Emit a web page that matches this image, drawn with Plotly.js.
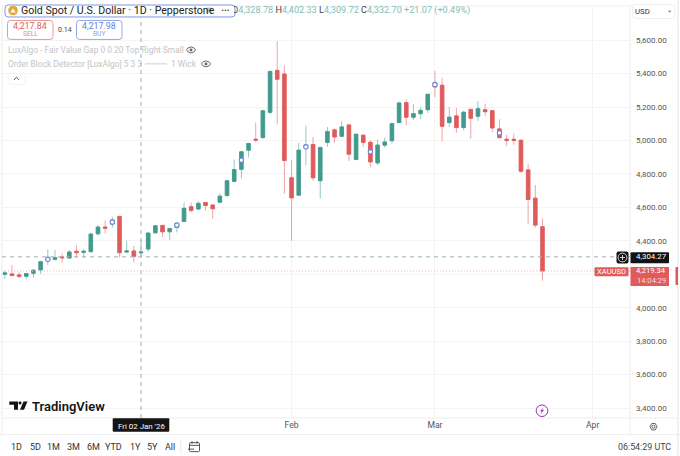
<!DOCTYPE html>
<html><head><meta charset="utf-8">
<script src="https://cdn.plot.ly/plotly-3.0.1.min.js"></script>
<style>html,body{margin:0;padding:0;background:#fff}#c{width:680px;height:456px}</style>
</head><body><div id="c"></div>
<script>
const dates=['2025-12-08','2025-12-09','2025-12-10','2025-12-11','2025-12-12','2025-12-15','2025-12-16','2025-12-17','2025-12-18','2025-12-19','2025-12-22','2025-12-23','2025-12-24','2025-12-25','2025-12-26','2025-12-29','2025-12-30','2025-12-31','2026-01-01','2026-01-02','2026-01-05','2026-01-06','2026-01-07','2026-01-08','2026-01-09','2026-01-12','2026-01-13','2026-01-14','2026-01-15','2026-01-16','2026-01-19','2026-01-20','2026-01-21','2026-01-22','2026-01-23','2026-01-26','2026-01-27','2026-01-28','2026-01-29','2026-01-30','2026-02-02','2026-02-03','2026-02-04','2026-02-05','2026-02-06','2026-02-09','2026-02-10','2026-02-11','2026-02-12','2026-02-13','2026-02-16','2026-02-17','2026-02-18','2026-02-19','2026-02-20','2026-02-23','2026-02-24','2026-02-25','2026-02-26','2026-02-27','2026-03-02','2026-03-03','2026-03-04','2026-03-05','2026-03-06','2026-03-09','2026-03-10','2026-03-11','2026-03-12','2026-03-13','2026-03-16','2026-03-17','2026-03-18','2026-03-19','2026-03-20','2026-03-23'];
const opens=[4200,4202,4196,4188,4206,4226,4285,4289,4303,4297,4337,4331,4335,4442,4482,4500,4546,4333,4339,4328.78,4351,4448,4492,4454,4480,4516,4604,4590,4629,4614,4631,4671,4755,4828,4942,5007,5017,5168,5419,5397,4777,4673,4958,4976,4759,4988,5063,5025,5093,4886,5031,4989,4866,4972,4999,5107,5226,5139,5160,5184,5344,5330,5107,5147,5077,5186,5145,5184,5178,5069,5007,5007,5001,4824,4655,4484];
const highs=[4222,4255,4212,4206,4232,4281,4349,4345,4325,4345,4373,4349,4448,4494,4522,4544,4548,4401,4369,4402.33,4452,4492,4492,4476,4510,4627,4629,4637,4629,4616,4683,4763,4886,4938,4986,5107,5184,5413,5594,5449,4882,4988,5089,5021,4962,5081,5071,5115,5093,5041,5037,5001,5005,5017,5101,5232,5246,5216,5200,5276,5415,5375,5200,5194,5175,5186,5236,5220,5184,5127,5035,5041,5007,4862,4733,4534];
const lows=[4172,4190,4176,4170,4180,4202,4255,4281,4269,4295,4297,4297,4331,4432,4444,4478,4301,4325,4271,4309.72,4335,4444,4421,4405,4450,4512,4570,4586,4580,4532,4627,4659,4753,4773,4898,4991,5011,5157,5097,4681,4401,4669,4852,4759,4653,4962,4986,5021,4878,4886,4962,4838,4852,4958,4982,5105,5091,5121,5127,5165,5260,4995,5081,5047,5061,5011,5117,5147,5051,5011,4968,4974,4808,4500,4480,4162];
const closes=[4208,4192,4188,4204,4224,4275,4295,4299,4299,4333,4329,4337,4440,4482,4476,4524,4329,4339,4307,4332.70,4446,4490,4454,4474,4504,4594,4582,4624,4611,4592,4667,4759,4826,4932,4982,5003,5177,5413,5366,4880,4657,4942,4972,4777,4958,5053,5021,5081,4918,5037,4989,4872,4972,4991,5101,5224,5139,5160,5180,5276,5320,5085,5139,5077,5169,5133,5190,5172,5075,5017,5001,5001,4816,4647,4494,4219.34];
const markerDates=['2025-12-16','2025-12-29','2026-01-09','2026-01-22','2026-02-04','2026-02-17','2026-03-02','2026-03-13'];
const markerPrices=[4289,4512,4494,4882,4962,4932,5334,5045];
const priceTicks=[3400,3600,3800,4000,4200,4400,4600,4800,5000,5200,5400,5600];
// the 4,200.00 label is hidden behind the last-price tag in the reference
const priceLabels=['3,400.00','3,600.00','3,800.00','4,000.00','','4,400.00','4,600.00','4,800.00','5,000.00','5,200.00','5,400.00','5,600.00'];
const monthTicks=['2026-02-02','2026-03-02','2026-04-01'];
const monthLabels=['Feb','Mar','Apr'];
const crossPrice=4304.27, lastPrice=4219.34, crossDate='2026-01-02';
const rangeButtons=['1D','5D','1M','3M','6M','YTD','1Y','5Y','All'];

const L=2,R=630,T=6.5,B=418.3,W=R-L,H=B-T;
const UP='#429a8e',DN='#e15b5b',UPW='rgba(66,154,142,0.55)',DNW='rgba(225,91,91,0.55)';
const F='Roboto, "Noto Sans", sans-serif';
const fx=p=>(p-L)/W, fy=p=>1-(p-T)/H;
const shapes=[],ann=[];
function line(x0,y0,x1,y1,c,w,dash,layer){shapes.push({type:'line',xref:'paper',yref:'paper',x0:fx(x0),x1:fx(x1),y0:fy(y0),y1:fy(y1),line:{color:c,width:w||1,dash:dash||'solid'},layer:layer||'above'});}
function rect(x0,y0,x1,y1,fill,c,w){shapes.push({type:'rect',xref:'paper',yref:'paper',x0:fx(x0),x1:fx(x1),y0:fy(y0),y1:fy(y1),fillcolor:fill||'rgba(0,0,0,0)',line:{color:c||'rgba(0,0,0,0)',width:c?(w||1):0},layer:'above'});}
function circ(cx,cy,r,fill,c,w){shapes.push({type:'circle',xref:'paper',yref:'paper',x0:fx(cx-r),x1:fx(cx+r),y0:fy(cy-r),y1:fy(cy+r),fillcolor:fill||'rgba(0,0,0,0)',line:{color:c||'rgba(0,0,0,0)',width:c?(w||1):0},layer:'above'});}
function poly(pts,fill,c,w,open){const d=pts.map((p,i)=>(i?'L':'M')+fx(p[0])+','+fy(p[1])).join(' ')+(open?'':' Z');shapes.push({type:'path',xref:'paper',yref:'paper',path:d,fillcolor:fill||'rgba(0,0,0,0)',line:{color:c||'rgba(0,0,0,0)',width:c?(w||1):0},layer:'above'});}
function rr(x0,y0,x1,y1,r,fill,c,w){const P=(x,y)=>fx(x)+','+fy(y);const d=`M${P(x0+r,y0)} L${P(x1-r,y0)} Q${P(x1,y0)} ${P(x1,y0+r)} L${P(x1,y1-r)} Q${P(x1,y1)} ${P(x1-r,y1)} L${P(x0+r,y1)} Q${P(x0,y1)} ${P(x0,y1-r)} L${P(x0,y0+r)} Q${P(x0,y0)} ${P(x0+r,y0)} Z`;shapes.push({type:'path',xref:'paper',yref:'paper',path:d,fillcolor:fill||'rgba(0,0,0,0)',line:{color:c||'rgba(0,0,0,0)',width:c?(w||1):0},layer:'above'});}
function txt(t,x,y,size,color,anchor,extra){ann.push(Object.assign({text:t,xref:'paper',yref:'paper',x:fx(x),y:fy(y),xanchor:anchor||'left',yanchor:'middle',showarrow:false,font:{family:F,size:size,color:color},borderpad:0,borderwidth:0},extra||{}));}
function eye(cx,cy){poly([[cx-4.5,cy],[cx-3,cy-2],[cx,cy-3],[cx+3,cy-2],[cx+4.5,cy],[cx+3,cy+2],[cx,cy+3],[cx-3,cy+2]],null,'#6a6a6a',1);circ(cx,cy,1.5,'#6a6a6a');}

// frame
line(2,5.5,676,5.5,'#f0f0f0',1);
line(2,5,2,435,'#ececec',1);
line(678,0,678,456,'#ececec',1.5);
line(L,B,678,B,'#ececec',1);
line(R,5.5,R,435,'#ececec',1);
line(0,435,680,435,'#ececec',1);

// crosshair and price lines in data coordinates
shapes.push({type:'line',xref:'paper',yref:'y',x0:0,x1:1,y0:crossPrice,y1:crossPrice,line:{color:'#adadad',width:1,dash:'4px,4px'},layer:'above'});
shapes.push({type:'line',xref:'paper',yref:'y',x0:0,x1:1,y0:lastPrice,y1:lastPrice,line:{color:'#f3b9b9',width:1,dash:'1px,2px'},layer:'above'});
shapes.push({type:'line',xref:'x',yref:'paper',x0:crossDate,x1:crossDate,y0:0,y1:1,line:{color:'#b5b5b5',width:1.2,dash:'4px,4px'},layer:'above'});

// OHLC header (drawn first so the title pill sits on its first letter)
const g='#7fc0b5',k='#444';
txt(`<span style="color:#555">O</span>4,328.78 <span style="color:${k}">H</span>4,402.33 <span style="color:${k}">L</span>4,309.72 <span style="color:${k}">C</span>4,332.70 +21.07 (+0.49%)`,232,10.3,9.1,g);

// title pill
rr(5,4.5,235,16.5,3,'#ffffff','#8097e2',1);
circ(13,10,4.8,'#e3a63c');
poly([[10.2,12],[13,8],[15.8,12]],'#ffffff');
txt('Gold Spot / U.S. Dollar · 1D · Pepperstone',21,10.3,10.6,'#222');
poly([[206,7],[212,7],[212,13],[209,11],[206,13]],'#c9c9c9');
txt('•••',225.5,10,8,'#444','center',{bgcolor:'#ffffff',width:17,height:9});

// sell / buy
rr(7.5,20,53,39,3,'#ffffff','#e99a9a',1);
txt('4,217.84',30.5,26,8.8,'#de5b5b','center');
txt('SELL',30.5,34,6.6,'#e58a8a','center');
txt('0.14',65,29.7,7,'#444','center');
rr(76.5,20,122,39,3,'#ffffff','#94a8e8',1);
txt('4,217.98',99,26,8.8,'#5f7fdc','center');
txt('BUY',99,34,6.6,'#8fa5e6','center');

// indicator legend
txt('LuxAlgo - Fair Value Gap 0 0 20 Top Right Small',8,49.5,8.4,'#c4c4c4');
eye(191,49.5);
txt('Order Block Detector [LuxAlgo] 5 3 3',8,63.5,8.4,'#c4c4c4');
line(145,63.5,167,63.5,'#cfcfcf',1);
txt('1 Wick',170.5,63.5,8.4,'#c4c4c4');
eye(206,63.5);
rr(8,73,25,84,1.5,'#ffffff','#f2f2f2',1);
poly([[14,79.5],[16.5,77],[19,79.5]],null,'#555',1,true);

// currency button
rr(632.5,4,674.5,18,2,'#ffffff','#f0f0f0',1);
txt('USD',634.5,11,7.8,'#333');
poly([[668,10.3],[671.5,10.3],[669.75,12]],'#777');

// crosshair price tag and add button
rr(630.5,252.3,669,263.3,1,'#131313');
ann.push({text:'4,304.27',xref:'paper',yref:'y',x:fx(651),y:crossPrice,xanchor:'center',yanchor:'middle',showarrow:false,font:{family:F,size:7.9,color:'#ffffff'},borderpad:0,borderwidth:0});
rr(616.5,251.5,628.5,263.5,2,'#131313');
circ(622.5,257.5,4.4,null,'#ffffff',0.8);
line(620,257.5,625,257.5,'#ffffff',0.8);
line(622.5,255,622.5,260,'#ffffff',0.8);

// last price tag
rr(594.5,267.3,628.5,276.3,1,DN);
txt('XAUUSD',611.5,271.9,7.6,'#ffffff','center');
rect(630.5,267,669,286,DN);
ann.push({text:'4,219.34',xref:'paper',yref:'y',x:fx(651),y:lastPrice,yshift:0.5,xanchor:'center',yanchor:'middle',showarrow:false,font:{family:F,size:7.6,color:'#ffffff'},borderpad:0,borderwidth:0});
txt('14:04:29',651,280.8,7.6,'#fbdcdc','center');
rect(675.5,267,678,285,DN);

// date tag
rr(112.7,418.5,169.3,432,1,'#131313');
txt("Fri 02 Jan '26",141,426.5,7.9,'#ffffff','center');

// logo
poly([[9.3,401.7],[18,401.7],[18,410],[14,410],[14,405],[9.3,405]],'#131318');
circ(20,403.2,1.5,'#131318');
poly([[20,410],[23.5,401.7],[27.5,401.7],[24,410]],'#131318');
txt('TradingView',31.7,406.3,13,'#131318','left',{font:{family:F,size:13,color:'#131318',weight:600}});

// lightning badge
circ(542,411,5.8,'#ffffff','#9b2fae',1);
poly([[543.5,407.8],[540,411.6],[541.7,411.6],[540.5,414.2],[544,410.4],[542.3,410.4]],'#9b2fae');

// settings hex
poly([[650,427],[651.8,423.8],[655.2,423.8],[657,427],[655.2,430.2],[651.8,430.2]],null,'#555',0.9);
circ(653.5,427,1.5,null,'#555',0.9);

// toolbar
const btnX=[16.7,35,53,73,93,114,135,152,169.5];
rangeButtons.forEach((b,i)=>txt(b,btnX[i],447,9,'#333','center'));
line(180.7,440,180.7,454,'#eaeaea',1);
rr(189.5,443,199.5,452,1,null,'#444',0.9);
line(189.5,445.7,199.5,445.7,'#444',0.9);
line(192,441.5,192,444,'#444',0.9);
line(197,441.5,197,444,'#444',0.9);
line(188,449.5,194,449.5,'#444',0.9);
txt('06:54:29 UTC',671,447,8.9,'#444','right');

const bodyHigh=opens.map((o,i)=>Math.max(o,closes[i]));
const bodyLow=opens.map((o,i)=>Math.min(o,closes[i]));
const traces=[
 {type:'candlestick',x:dates,open:opens,high:highs,low:lows,close:closes,increasing:{line:{color:UPW,width:1},fillcolor:'rgba(0,0,0,0)'},decreasing:{line:{color:DNW,width:1},fillcolor:'rgba(0,0,0,0)'},whiskerwidth:0,hoverinfo:'skip',showlegend:false},
 {type:'candlestick',x:dates,open:opens,high:bodyHigh,low:bodyLow,close:closes,increasing:{line:{color:UP,width:0.8},fillcolor:UP},decreasing:{line:{color:DN,width:0.8},fillcolor:DN},whiskerwidth:0,hoverinfo:'skip',showlegend:false},
 {type:'scatter',mode:'markers',x:markerDates,y:markerPrices,marker:{symbol:'circle',size:4.4,color:'#ffffff',line:{color:'#6f86d8',width:1.1}},hoverinfo:'skip',showlegend:false}
];
const layout={
 width:680,height:456,paper_bgcolor:'#ffffff',plot_bgcolor:'#ffffff',
 margin:{l:L,r:680-R,t:T,b:456-B,pad:0},showlegend:false,boxgap:0.3,
 xaxis:{type:'date',range:['2025-12-05 14:38','2026-04-08 05:00'],rangebreaks:[{bounds:['sat','mon']}],rangeslider:{visible:false},
  tickmode:'array',tickvals:monthTicks,ticktext:monthLabels,showgrid:true,gridcolor:'#f4f4f4',gridwidth:1,zeroline:false,showline:false,ticks:'',
  tickfont:{family:F,size:8.6,color:'#555'},automargin:false},
 yaxis:{side:'right',range:[3340.5,5798],tickmode:'array',tickvals:priceTicks,ticktext:priceLabels,showgrid:true,gridcolor:'#f4f4f4',gridwidth:1,zeroline:false,showline:false,ticks:'',
  tickfont:{family:F,size:8,color:'#555'},automargin:false,ticklabelstandoff:5},
 shapes:shapes,annotations:ann
};
Plotly.newPlot('c',traces,layout,{displayModeBar:false,staticPlot:true});
</script></body></html>
